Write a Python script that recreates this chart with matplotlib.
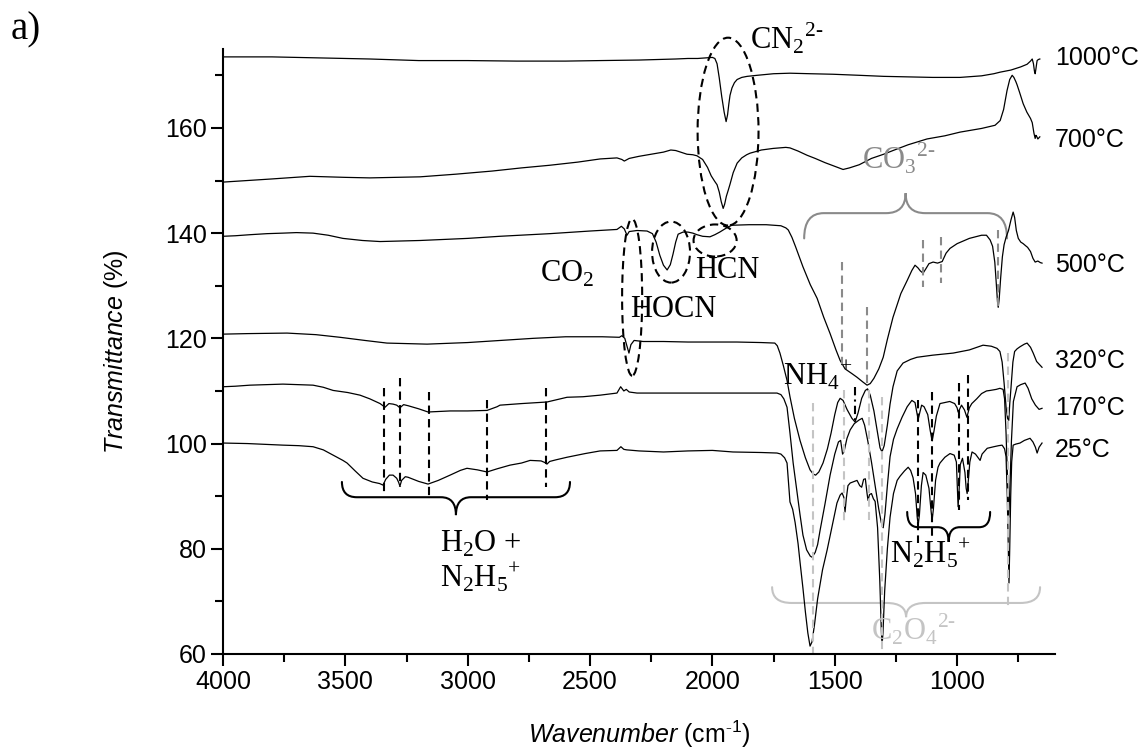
import numpy as np
import matplotlib
matplotlib.use('Agg')
import matplotlib.pyplot as plt
from matplotlib.patches import Ellipse, PathPatch
from matplotlib.path import Path
from matplotlib.ticker import MultipleLocator

plt.rcParams['font.family'] = ['Liberation Sans', 'DejaVu Sans']
plt.rcParams['mathtext.fontset'] = 'custom'
plt.rcParams['mathtext.rm'] = 'Liberation Serif'
plt.rcParams['mathtext.it'] = 'Liberation Sans:italic'
plt.rcParams['mathtext.sf'] = 'Liberation Sans'

# ---------------- data: (wavenumber, transmittance) -------------
spec_1000 = np.array([
    (4000, 173.5), (3800, 173.5), (3600, 173.3), (3400, 173.1), (3200, 172.8), (3000, 172.8),
    (2800, 172.7), (2600, 172.7), (2459, 172.8), (2300, 172.9), (2150, 173.1), (2100, 173.2),
    (2060, 173.2), (2030, 173.3), (2000, 173.4), (1990, 173.2), (1981, 172.2), (1972, 169.5),
    (1962, 166.0), (1952, 163.0), (1944, 161.2), (1938, 162.5), (1933, 164.5), (1928, 166.2),
    (1920, 167.6), (1910, 168.6), (1899, 169.2), (1880, 169.6), (1858, 169.8), (1817, 170.0),
    (1750, 170.3), (1683, 170.4), (1600, 170.3), (1507, 170.2), (1400, 170.0), (1300, 169.8),
    (1200, 169.7), (1100, 169.6), (988, 169.6), (900, 169.9), (850, 170.3), (824, 170.6),
    (780, 171.0), (740, 171.6), (714, 172.1), (700, 172.7), (693, 173.1), (688, 172.2),
    (684, 170.8), (681, 170.3), (678, 171.2), (675, 172.2), (673, 172.8), (668, 173.0), (662, 173.1)])

spec_700 = np.array([
    (4000, 149.7), (3900, 150.0), (3800, 150.3), (3645, 150.8), (3500, 150.6), (3400, 150.5),
    (3195, 150.7), (3050, 151.2), (2900, 151.8), (2780, 152.4), (2665, 152.9), (2550, 153.5),
    (2459, 154.1), (2390, 154.3), (2370, 154.0), (2360, 153.7), (2340, 154.2), (2300, 154.6),
    (2250, 155.0), (2200, 155.4), (2170, 155.8), (2150, 155.7), (2130, 155.4), (2104, 155.0),
    (2080, 154.9), (2063, 154.7), (2040, 154.0), (2020, 152.5), (2005, 150.9), (1990, 149.8),
    (1981, 149.2), (1972, 147.8), (1964, 146.0), (1956, 144.7), (1950, 145.5), (1943, 147.0),
    (1935, 148.2), (1928, 149.3), (1915, 151.5), (1899, 153.3), (1880, 154.3), (1860, 154.9),
    (1846, 155.2), (1800, 155.8), (1752, 156.1), (1700, 156.3), (1683, 156.2), (1650, 155.6),
    (1613, 154.8), (1580, 154.2), (1540, 153.4), (1500, 152.7), (1466, 152.1), (1440, 152.4),
    (1400, 153.0), (1350, 154.2), (1300, 155.0), (1262, 155.7), (1200, 156.8), (1123, 157.9),
    (1050, 158.5), (988, 159.2), (900, 159.9), (845, 160.5), (824, 161.4), (810, 163.5),
    (796, 167.1), (785, 169.2), (775, 170.0), (768, 169.6), (760, 168.8), (755, 168.2),
    (745, 166.8), (730, 164.6), (715, 163.0), (700, 161.8), (693, 161.0), (686, 159.0),
    (681, 158.0), (678, 158.6), (675, 158.4), (670, 157.9), (662, 158.3)])

spec_500 = np.array([
    (4000, 139.4), (3950, 139.5), (3890, 139.7), (3820, 139.9), (3755, 140.0), (3700, 140.1),
    (3632, 140.0), (3570, 139.6), (3510, 139.0), (3430, 138.6), (3358, 138.4), (3195, 138.6),
    (3000, 139.0), (2868, 139.4), (2664, 139.9), (2500, 140.4), (2390, 140.7), (2372, 141.3),
    (2360, 140.8), (2349, 139.6), (2340, 140.3), (2308, 140.5), (2267, 140.4), (2245, 139.9),
    (2230, 138.3), (2215, 135.8), (2200, 133.9), (2185, 133.0), (2172, 134.0), (2161, 136.0),
    (2150, 138.3), (2140, 139.8), (2120, 140.2), (2100, 140.2), (2080, 140.0), (2063, 139.7),
    (2040, 139.4), (2010, 139.3), (1990, 139.7), (1970, 140.2), (1956, 140.6), (1935, 141.2),
    (1920, 141.5), (1850, 141.6), (1780, 141.6), (1720, 141.4), (1700, 141.0), (1690, 140.6),
    (1675, 139.2), (1660, 137.4), (1645, 135.5), (1630, 133.6), (1600, 130.2), (1572, 127.6),
    (1545, 124.0), (1519, 120.9), (1495, 117.8), (1478, 115.8), (1458, 114.2), (1430, 113.3),
    (1409, 112.6), (1385, 111.7), (1368, 111.1), (1355, 111.4), (1340, 112.4), (1320, 114.2),
    (1302, 116.4), (1285, 119.8), (1262, 124.0), (1230, 128.5), (1204, 131.0), (1185, 132.9),
    (1172, 133.9), (1160, 133.4), (1150, 132.8), (1139, 132.4), (1128, 133.2), (1115, 134.2),
    (1098, 134.5), (1080, 134.3), (1061, 134.6), (1045, 136.2), (1029, 137.1), (1000, 138.0),
    (950, 139.0), (900, 139.6), (880, 139.6), (865, 138.7), (855, 137.5), (846, 134.5),
    (840, 130.5), (835, 127.0), (832, 125.9), (828, 127.5), (822, 131.5), (815, 135.5),
    (808, 137.8), (800, 139.2), (790, 140.5), (780, 142.5), (771, 144.0), (765, 143.0),
    (758, 140.5), (750, 139.0), (740, 138.3), (730, 138.0), (720, 137.6), (712, 137.3),
    (700, 136.5), (690, 135.2), (681, 134.5), (670, 134.7), (660, 134.4), (653, 134.3)])

spec_320 = np.array([
    (4000, 120.8), (3900, 120.9), (3738, 121.0), (3620, 120.7), (3522, 120.2), (3420, 119.6),
    (3330, 119.1), (3166, 118.9), (3000, 119.2), (2900, 119.5), (2733, 120.0), (2600, 120.3),
    (2450, 120.3), (2380, 120.2), (2370, 120.5), (2358, 120.0), (2349, 118.5), (2341, 117.2),
    (2333, 118.8), (2320, 119.6), (2283, 119.4), (2200, 119.4), (2100, 119.3), (2000, 119.3),
    (1900, 119.3), (1800, 119.2), (1745, 119.1), (1735, 118.6), (1724, 117.2), (1710, 114.8),
    (1695, 112.0), (1683, 108.9), (1665, 104.8), (1642, 100.6), (1620, 97.3), (1601, 95.0),
    (1588, 94.2), (1578, 94.0), (1565, 94.6), (1548, 96.3), (1530, 99.0), (1515, 102.0),
    (1500, 105.5), (1488, 107.8), (1478, 108.6), (1466, 108.2), (1450, 106.5), (1430, 104.8),
    (1417, 104.1), (1405, 105.8), (1390, 108.6), (1375, 110.1), (1366, 110.4), (1355, 109.2),
    (1340, 106.2), (1325, 102.0), (1315, 99.2), (1307, 98.4), (1298, 99.6), (1285, 103.5),
    (1274, 107.5), (1262, 110.8), (1245, 113.8), (1221, 115.3), (1190, 116.0), (1164, 116.4),
    (1100, 116.8), (1016, 117.2), (950, 117.8), (894, 118.7), (860, 118.5), (837, 118.1),
    (825, 117.5), (816, 115.5), (808, 111.5), (800, 107.0), (794, 104.8), (789, 104.4),
    (785, 107.5), (780, 110.5), (772, 115.5), (765, 117.5), (755, 118.0), (743, 118.4),
    (725, 118.9), (714, 119.1), (700, 118.3), (689, 117.2), (675, 115.6), (653, 114.5)])

spec_170 = np.array([
    (4000, 110.8), (3950, 110.9), (3890, 111.1), (3820, 111.2), (3755, 111.3), (3690, 111.2),
    (3632, 111.1), (3590, 110.7), (3550, 110.1), (3490, 109.7), (3440, 109.2), (3400, 108.5),
    (3358, 107.6), (3338, 106.9), (3322, 107.6), (3305, 107.5), (3290, 107.3), (3277, 106.8),
    (3262, 107.4), (3244, 107.2), (3200, 106.6), (3162, 106.0), (3120, 106.1), (3072, 106.2),
    (3000, 106.2), (2921, 106.3), (2880, 107.0), (2868, 107.3), (2780, 107.6), (2676, 107.9),
    (2620, 108.5), (2594, 108.8), (2529, 108.9), (2459, 109.2), (2390, 109.6), (2375, 110.8),
    (2362, 110.0), (2352, 110.3), (2340, 109.8), (2308, 109.6), (2200, 109.6), (2120, 109.6),
    (2000, 109.6), (1900, 109.6), (1800, 109.6), (1736, 109.6), (1720, 109.3), (1708, 108.5),
    (1695, 106.9), (1683, 102.0), (1670, 96.3), (1655, 91.0), (1642, 86.5), (1630, 82.6),
    (1615, 79.8), (1600, 78.6), (1593, 78.4), (1580, 79.3), (1570, 80.8), (1560, 83.5),
    (1540, 88.5), (1519, 94.0), (1500, 98.0), (1485, 100.3), (1476, 100.6), (1468, 98.0),
    (1462, 98.5), (1450, 101.0), (1437, 102.6), (1420, 103.8), (1400, 104.5), (1388, 104.8),
    (1378, 103.5), (1365, 100.5), (1350, 96.5), (1335, 92.0), (1320, 87.5), (1310, 85.0),
    (1302, 84.0), (1295, 86.5), (1285, 92.0), (1274, 97.5), (1260, 100.8), (1245, 102.8),
    (1225, 105.0), (1204, 107.0), (1185, 108.2), (1172, 107.8), (1165, 106.0), (1159, 104.6),
    (1152, 106.0), (1145, 107.3), (1135, 107.0), (1120, 105.5), (1110, 102.5), (1102, 100.5),
    (1094, 102.5), (1085, 105.2), (1070, 107.6), (1050, 107.8), (1030, 108.0), (1010, 107.6),
    (1000, 106.8), (996, 106.0), (990, 106.5), (982, 107.3), (970, 106.4), (960, 105.0),
    (950, 106.8), (940, 107.6), (920, 108.5), (900, 109.5), (880, 110.0), (865, 110.1),
    (840, 110.3), (825, 110.5), (812, 110.3), (806, 108.5), (800, 102.0), (794, 93.0),
    (789, 86.0), (784, 92.0), (778, 100.5), (770, 108.0), (755, 110.8), (740, 111.2),
    (722, 111.5), (710, 110.5), (695, 108.5), (680, 107.3), (665, 106.5), (653, 106.7)])

spec_25 = np.array([
    (4000, 100.1), (3900, 100.0), (3755, 99.7), (3690, 99.6), (3632, 99.4), (3590, 98.8),
    (3550, 97.8), (3510, 96.8), (3493, 96.3), (3460, 94.8), (3428, 93.4), (3390, 92.7),
    (3360, 92.4), (3346, 92.1), (3335, 93.2), (3320, 94.0), (3305, 94.0), (3290, 93.4),
    (3282, 92.6), (3277, 91.9), (3270, 93.0), (3255, 93.7), (3244, 93.6), (3200, 92.8),
    (3162, 92.3), (3120, 93.0), (3072, 94.0), (3030, 94.9), (3003, 95.3), (2960, 95.0),
    (2921, 94.6), (2880, 95.2), (2827, 95.9), (2780, 96.3), (2745, 96.8), (2700, 96.7),
    (2685, 96.4), (2676, 96.1), (2665, 96.6), (2640, 96.9), (2594, 97.4), (2520, 98.1),
    (2459, 98.6), (2390, 98.7), (2374, 99.4), (2362, 98.9), (2350, 98.8), (2300, 98.6),
    (2200, 98.4), (2100, 98.6), (2000, 98.7), (1916, 98.4), (1800, 98.3), (1736, 98.2),
    (1720, 98.0), (1705, 97.3), (1695, 96.3), (1688, 92.0), (1683, 88.9), (1672, 87.5),
    (1662, 85.0), (1650, 81.0), (1642, 77.5), (1630, 72.5), (1620, 68.0), (1610, 64.0),
    (1601, 61.5), (1593, 62.3), (1583, 65.5), (1570, 70.5), (1550, 76.0), (1531, 79.8),
    (1510, 84.5), (1491, 88.7), (1478, 90.2), (1470, 90.6), (1463, 89.8), (1458, 87.0),
    (1453, 89.5), (1446, 92.0), (1437, 92.5), (1420, 92.8), (1409, 93.0), (1398, 92.0),
    (1390, 91.7), (1382, 93.2), (1375, 93.3), (1368, 90.5), (1364, 89.2), (1358, 90.3),
    (1350, 90.5), (1342, 89.5), (1335, 89.0), (1325, 84.0), (1316, 74.0), (1310, 65.0),
    (1307, 61.5), (1303, 64.0), (1296, 72.0), (1285, 80.0), (1274, 86.0), (1260, 90.5),
    (1245, 93.0), (1233, 93.8), (1215, 94.8), (1200, 95.5), (1190, 94.9), (1180, 93.5),
    (1170, 90.5), (1163, 86.0), (1159, 84.5), (1154, 86.5), (1146, 92.0), (1139, 94.5),
    (1128, 94.0), (1115, 91.5), (1106, 87.0), (1102, 85.5), (1097, 87.5), (1088, 93.0),
    (1078, 95.5), (1070, 96.3), (1050, 97.4), (1029, 98.1), (1012, 97.8), (1003, 96.5),
    (999, 91.5), (996, 88.0), (992, 91.0), (987, 96.0), (978, 97.2), (968, 94.5),
    (963, 91.5), (959, 90.5), (955, 92.5), (948, 96.5), (939, 98.4), (925, 98.0),
    (912, 97.2), (906, 96.8), (898, 98.0), (877, 99.1), (850, 99.4), (830, 99.6),
    (816, 99.7), (806, 99.0), (800, 97.5), (795, 90.0), (791, 80.0), (788, 73.5),
    (785, 80.0), (781, 90.0), (777, 96.5), (771, 99.7), (760, 99.9), (743, 100.1),
    (725, 100.6), (702, 101.0), (690, 100.3), (680, 99.3), (673, 98.2), (665, 99.3), (653, 100.1)])

spectra = [spec_1000, spec_700, spec_500, spec_320, spec_170, spec_25]
temp_labels = ['1000°C', '700°C', '500°C', '320°C', '170°C', '25°C']
temp_label_y = [171.9, 156.3, 132.6, 114.3, 105.4, 97.4]

x_major = [4000, 3500, 3000, 2500, 2000, 1500, 1000]
y_major = [60, 80, 100, 120, 140, 160]

# ---------------- figure ----------------
fig = plt.figure(figsize=(11.4, 7.49), dpi=100)
ax = fig.add_axes([0.19561, 0.12684, 0.72982, 0.80774])

for s in spectra:
    ax.plot(s[:, 0], s[:, 1], color='black', lw=0.9, solid_joinstyle='round')

ax.set_xlim(4000, 600)
ax.set_ylim(60, 175)
ax.set_xticks(x_major)
ax.set_yticks(y_major)
ax.xaxis.set_minor_locator(MultipleLocator(250))
ax.yaxis.set_minor_locator(MultipleLocator(10))
for sp in ['top', 'right']:
    ax.spines[sp].set_visible(False)
for sp in ['left', 'bottom']:
    ax.spines[sp].set_linewidth(1.5)
ax.tick_params(which='major', direction='out', length=8.5, width=1.5, labelsize=18, pad=3)
ax.tick_params(which='minor', direction='out', length=5.5, width=1.5)

ax.set_ylabel(r'$Transmittance$ (%)', fontsize=18)
ax.yaxis.set_label_coords(-0.112, 0.5)
ax.set_xlabel(r'$Wavenumber$ (cm$^{\text{-}\mathsf{1}}$)', fontsize=18)
ax.xaxis.set_label_coords(0.5, -0.107)

# temperature labels
for lab, yv in zip(temp_labels, temp_label_y):
    ax.text(600, yv, lab, fontsize=18, ha='left', va='baseline', clip_on=False)

fig.text(0.009, 0.947, 'a)', family='Liberation Serif', fontsize=28, va='baseline')

# ---------------- annotations ----------------
GREY = '#8a8a8a'
LGREY = '#c4c4c4'
DASH = (0, (4, 2.5))

def brace(x0, x1, y_end, y_line, y_tip, r, color):
    xm = (x0 + x1) / 2.0
    s = -1.0 if x1 < x0 else 1.0
    verts = [(x0, y_end), (x0, y_line), (x0 + s * r, y_line),
             (xm - s * r, y_line), (xm, y_line), (xm, y_tip),
             (xm, y_line), (xm + s * r, y_line),
             (x1 - s * r, y_line), (x1, y_line), (x1, y_end)]
    codes = [Path.MOVETO, Path.CURVE3, Path.CURVE3, Path.LINETO, Path.CURVE3, Path.CURVE3,
             Path.CURVE3, Path.CURVE3, Path.LINETO, Path.CURVE3, Path.CURVE3]
    ax.add_patch(PathPatch(Path(verts, codes), fill=False, ec=color, lw=1.5,
                           clip_on=False, capstyle='round'))

brace(3514, 2582, 92.7, 89.8, 86.4, 61, 'black')      # H2O + N2H5+
brace(1625, 796, 139.0, 143.8, 147.6, 80, GREY)        # CO3 2-
brace(1204, 865, 87.0, 84.1, 81.3, 45, 'black')        # N2H5+
brace(1756, 661, 72.7, 69.7, 67.0, 80, LGREY)          # C2O4 2-

# dashed ellipses
for (cx, cy, w, h) in [(1936, 159.3, 249, 35.7), (2328, 127.8, 82, 29.8),
                       (2169, 136.4, 155, 11.6), (1989, 138.6, 176, 6.1)]:
    ax.add_patch(Ellipse((cx, cy), w, h, fill=False, ec='black', lw=1.5, ls=DASH,
                         clip_on=False))

# marker lines
black_dash = [(3342, 110.5, 90.2), (3277, 112.4, 91.7), (3158, 109.8, 89.6),
              (2921, 108.2, 89.2), (2680, 110.5, 91.7),
              (1159, 108.2, 81.1), (1102, 109.8, 82.2), (992, 111.5, 87.4), (955, 113.0, 89.2)]
grey_dash = [(1470, 134.5, 114.5), (1368, 125.9, 110.7), (1139, 138.6, 129.7),
             (1065, 139.2, 130.5), (832, 140.5, 125.3)]
lgrey_dash = [(1589, 107.7, 60), (1462, 110.1, 84.5), (1360, 110.1, 85.5),
              (1307, 108.8, 60), (792, 117.2, 68.7)]
for x, y0, y1 in lgrey_dash:
    ax.plot([x, x], [y0, y1], color=LGREY, lw=1.5, ls=DASH)
for x, y0, y1 in grey_dash:
    ax.plot([x, x], [y0, y1], color=GREY, lw=1.5, ls=DASH)
for x, y0, y1 in black_dash:
    ax.plot([x, x], [y0, y1], color='black', lw=1.5, ls=DASH)
ax.plot([1417, 1417], [110.7, 104.1], color='black', lw=1.5, ls=(0, (4, 2, 1, 2)))

# chemistry labels
chem = [(1846, 175.1, r'CN$_2{}^{2\text{-}}$', 'black'),
        (2337, 124.0, 'HOCN', 'black'),
        (2071, 131.4, 'HCN', 'black'),
        (2704, 130.7, r'CO$_2$', 'black'),
        (1711, 111.1, r'NH$_4{}^{\text{+}}$', 'black'),
        (1388, 152.3, r'CO$_3{}^{2\text{-}}$', GREY),
        (3113, 79.4, r'H$_2$O +', 'black'),
        (3113, 72.7, r'N$_2$H$_5{}^{\text{+}}$', 'black'),
        (1274, 77.3, r'N$_2$H$_5{}^{\text{+}}$', 'black'),
        (1352, 62.7, r'C$_2$O$_4{}^{2\text{-}}$', LGREY)]
for x, y, s, c in chem:
    ax.text(x, y, s, family='Liberation Serif', fontsize=22, color=c,
            ha='left', va='baseline', clip_on=False)

fig.savefig('out.png', dpi=100)
